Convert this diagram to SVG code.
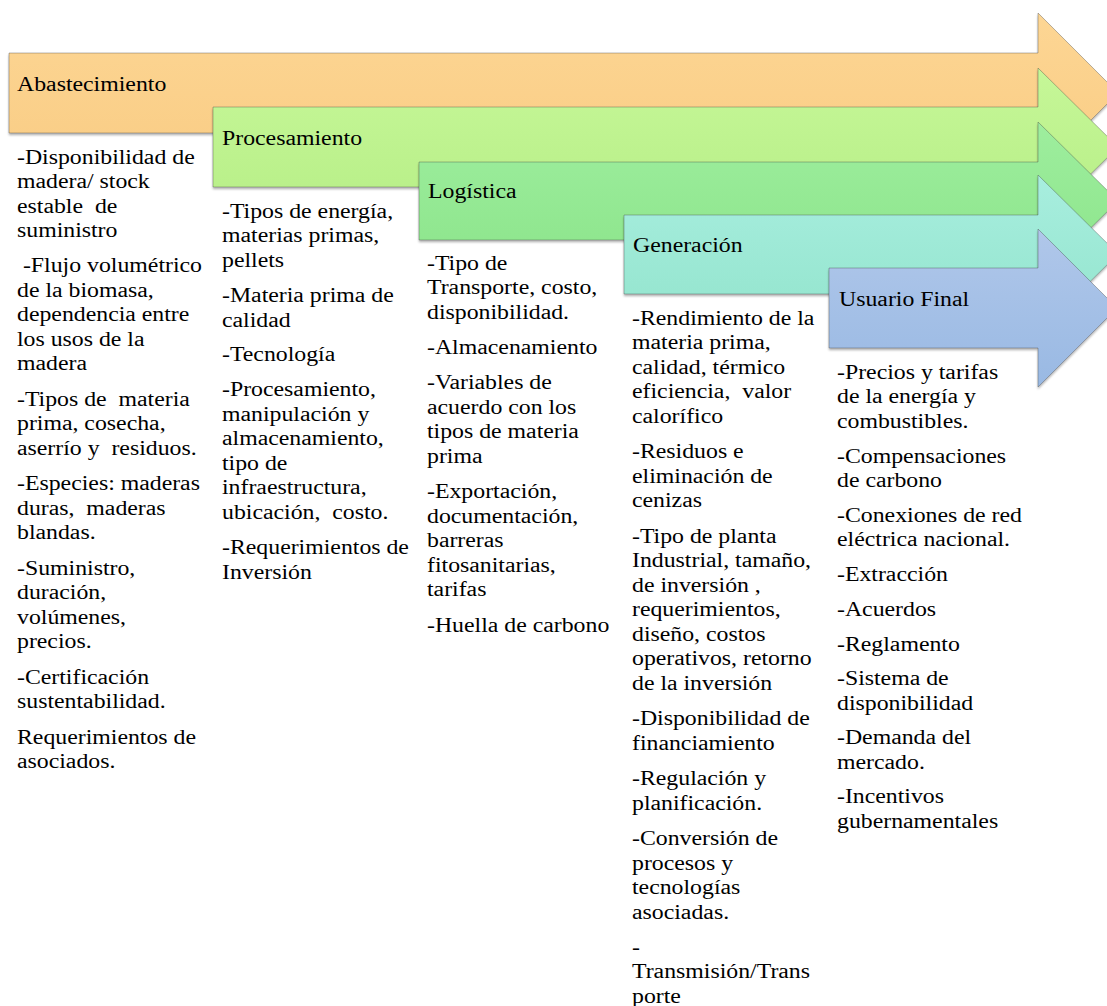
<svg xmlns="http://www.w3.org/2000/svg" width="1107" height="1006" viewBox="0 0 1107 1006">
<defs>
<style>
.t{font-family:"Liberation Serif","Times New Roman",serif;font-size:20px;fill:#000;white-space:pre}
.ar{stroke:rgba(60,60,60,0.35);stroke-width:1;filter:url(#sh)}
</style>
<filter id="sh" x="-5%" y="-10%" width="110%" height="130%">
<feDropShadow dx="0" dy="2" stdDeviation="1.2" flood-color="#000" flood-opacity="0.3"/>
</filter>
<linearGradient id="g1" x1="0" y1="0" x2="0" y2="1"><stop offset="0" stop-color="#FDD694"/><stop offset="1" stop-color="#F9CC84"/></linearGradient>
<linearGradient id="g2" x1="0" y1="0" x2="0" y2="1"><stop offset="0" stop-color="#C6F798"/><stop offset="1" stop-color="#B6EE86"/></linearGradient>
<linearGradient id="g3" x1="0" y1="0" x2="0" y2="1"><stop offset="0" stop-color="#9EEE9E"/><stop offset="1" stop-color="#8BE48A"/></linearGradient>
<linearGradient id="g4" x1="0" y1="0" x2="0" y2="1"><stop offset="0" stop-color="#A8EEDF"/><stop offset="1" stop-color="#92E4CC"/></linearGradient>
<linearGradient id="g5" x1="0" y1="0" x2="0" y2="1"><stop offset="0" stop-color="#B0C7EA"/><stop offset="1" stop-color="#99B9E3"/></linearGradient>
</defs>
<rect width="1107" height="1006" fill="#fff"/>
<g id="connectors"></g>

<g id="abastecimiento">
<polygon class="ar" fill="url(#g1)" points="9,53 1038,53 1038,13 1118,93 1038,173 1038,133 9,133"/>
<text class="t" transform="translate(17,0) scale(1.19,1)"><tspan x="0" y="91">Abastecimiento</tspan></text>
<text class="t" transform="translate(17,0) scale(1.19,1)"><tspan x="0" y="164">-Disponibilidad de</tspan><tspan x="0" y="188.5">madera/ stock</tspan><tspan x="0" y="213">estable  de</tspan><tspan x="0" y="237.5">suministro</tspan><tspan x="0" y="272.5"> -Flujo volumétrico</tspan><tspan x="0" y="297">de la biomasa,</tspan><tspan x="0" y="321.5">dependencia entre</tspan><tspan x="0" y="346">los usos de la</tspan><tspan x="0" y="370.5">madera</tspan><tspan x="0" y="406">-Tipos de  materia</tspan><tspan x="0" y="430.5">prima, cosecha,</tspan><tspan x="0" y="455">aserrío y  residuos.</tspan><tspan x="0" y="490.5">-Especies: maderas</tspan><tspan x="0" y="515">duras,  maderas</tspan><tspan x="0" y="539.5">blandas.</tspan><tspan x="0" y="575">-Suministro,</tspan><tspan x="0" y="599.5">duración,</tspan><tspan x="0" y="624">volúmenes,</tspan><tspan x="0" y="648.5">precios.</tspan><tspan x="0" y="684">-Certificación</tspan><tspan x="0" y="708.5">sustentabilidad.</tspan><tspan x="0" y="744">Requerimientos de</tspan><tspan x="0" y="768.5">asociados.</tspan></text>
</g>

<g id="procesamiento">
<polygon class="ar" fill="url(#g2)" points="213,107 1038,107 1038,68 1118,147 1038,226 1038,187 213,187"/>
<text class="t" transform="translate(222,0) scale(1.19,1)"><tspan x="0" y="145">Procesamiento</tspan></text>
<text class="t" transform="translate(222,0) scale(1.19,1)"><tspan x="0" y="218">-Tipos de energía,</tspan><tspan x="0" y="242.5">materias primas,</tspan><tspan x="0" y="267">pellets</tspan><tspan x="0" y="302.5">-Materia prima de</tspan><tspan x="0" y="327">calidad</tspan><tspan x="0" y="361">-Tecnología</tspan><tspan x="0" y="396.5">-Procesamiento,</tspan><tspan x="0" y="421">manipulación y</tspan><tspan x="0" y="445.5">almacenamiento,</tspan><tspan x="0" y="470">tipo de</tspan><tspan x="0" y="494.5">infraestructura,</tspan><tspan x="0" y="519">ubicación,  costo.</tspan><tspan x="0" y="554.5">-Requerimientos de</tspan><tspan x="0" y="579">Inversión</tspan></text>
</g>

<g id="logistica">
<polygon class="ar" fill="url(#g3)" points="419,162 1038,162 1038,122 1118,201 1038,280 1038,240 419,240"/>
<text class="t" transform="translate(428,0) scale(1.19,1)"><tspan x="0" y="198">Logística</tspan></text>
<text class="t" transform="translate(427,0) scale(1.19,1)"><tspan x="0" y="270">-Tipo de</tspan><tspan x="0" y="294.5">Transporte, costo,</tspan><tspan x="0" y="319">disponibilidad.</tspan><tspan x="0" y="354.5">-Almacenamiento</tspan><tspan x="0" y="389.5">-Variables de</tspan><tspan x="0" y="414">acuerdo con los</tspan><tspan x="0" y="438.5">tipos de materia</tspan><tspan x="0" y="463">prima</tspan><tspan x="0" y="498.5">-Exportación,</tspan><tspan x="0" y="523">documentación,</tspan><tspan x="0" y="547.5">barreras</tspan><tspan x="0" y="572">fitosanitarias,</tspan><tspan x="0" y="596.5">tarifas</tspan><tspan x="0" y="632">-Huella de carbono</tspan></text>
</g>

<g id="generacion">
<polygon class="ar" fill="url(#g4)" points="624,215 1038,215 1038,175 1118,254 1038,333 1038,294 624,294"/>
<text class="t" transform="translate(633,0) scale(1.19,1)"><tspan x="0" y="252">Generación</tspan></text>
<text class="t" transform="translate(632,0) scale(1.19,1)"><tspan x="0" y="325">-Rendimiento de la</tspan><tspan x="0" y="349.5">materia prima,</tspan><tspan x="0" y="374">calidad, térmico</tspan><tspan x="0" y="398.5">eficiencia,  valor</tspan><tspan x="0" y="423">calorífico</tspan><tspan x="0" y="458.5">-Residuos e</tspan><tspan x="0" y="483">eliminación de</tspan><tspan x="0" y="507.5">cenizas</tspan><tspan x="0" y="543">-Tipo de planta</tspan><tspan x="0" y="567.5">Industrial, tamaño,</tspan><tspan x="0" y="592">de inversión ,</tspan><tspan x="0" y="616.5">requerimientos,</tspan><tspan x="0" y="641">diseño, costos</tspan><tspan x="0" y="665.5">operativos, retorno</tspan><tspan x="0" y="690">de la inversión</tspan><tspan x="0" y="725.5">-Disponibilidad de</tspan><tspan x="0" y="750">financiamiento</tspan><tspan x="0" y="785.5">-Regulación y</tspan><tspan x="0" y="810">planificación.</tspan><tspan x="0" y="845.5">-Conversión de</tspan><tspan x="0" y="870">procesos y</tspan><tspan x="0" y="894.5">tecnologías</tspan><tspan x="0" y="919">asociadas.</tspan><tspan x="0" y="954">-</tspan><tspan x="0" y="978.5">Transmisión/Trans</tspan><tspan x="0" y="1003">porte</tspan></text>
</g>

<g id="usuario-final">
<polygon class="ar" fill="url(#g5)" points="829,268 1038,268 1038,229 1117,308 1038,387 1038,348 829,348"/>
<text class="t" transform="translate(839,0) scale(1.19,1)"><tspan x="0" y="306">Usuario Final</tspan></text>
<text class="t" transform="translate(837,0) scale(1.19,1)"><tspan x="0" y="379">-Precios y tarifas</tspan><tspan x="0" y="403.5">de la energía y</tspan><tspan x="0" y="428">combustibles.</tspan><tspan x="0" y="463">-Compensaciones</tspan><tspan x="0" y="487.5">de carbono</tspan><tspan x="0" y="522">-Conexiones de red</tspan><tspan x="0" y="546.5">eléctrica nacional.</tspan><tspan x="0" y="581.5">-Extracción</tspan><tspan x="0" y="616.5">-Acuerdos</tspan><tspan x="0" y="651">-Reglamento</tspan><tspan x="0" y="685.5">-Sistema de</tspan><tspan x="0" y="710">disponibilidad</tspan><tspan x="0" y="744.5">-Demanda del</tspan><tspan x="0" y="769">mercado.</tspan><tspan x="0" y="803.5">-Incentivos</tspan><tspan x="0" y="828">gubernamentales</tspan></text>
</g>
</svg>
